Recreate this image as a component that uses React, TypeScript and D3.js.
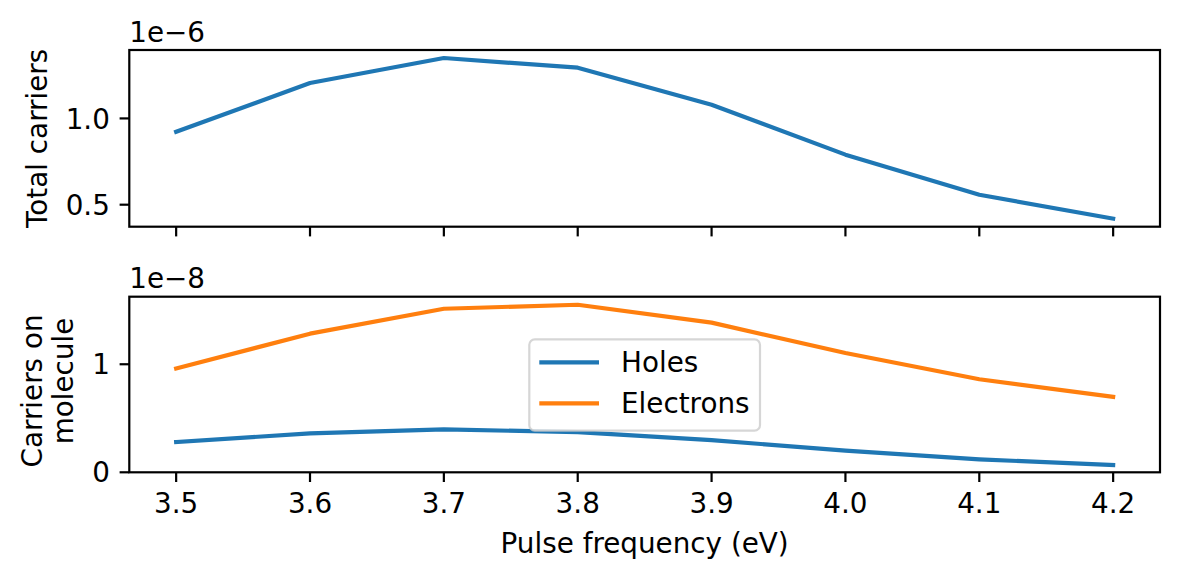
import React from "react";
import * as d3 from "d3";

const freqs = [3.5, 3.6, 3.7, 3.8, 3.9, 4.0, 4.1, 4.2];
// Total carriers, in units of 1e-6
const totalCarriers = [0.923, 1.205, 1.35, 1.294, 1.079, 0.79, 0.558, 0.419];
// Carriers on molecule, in units of 1e-8
const holes = [0.28, 0.36, 0.397, 0.372, 0.298, 0.2, 0.12, 0.067];
const electrons = [0.96, 1.283, 1.514, 1.551, 1.385, 1.104, 0.861, 0.698];

const xTicks = [3.5, 3.6, 3.7, 3.8, 3.9, 4.0, 4.1, 4.2];
const topYTicks = [0.5, 1.0];
const bottomYTicks = [0, 1];
const seriesNames = ["Holes", "Electrons"];

const W = 1180;
const H = 580;
const FS = 27.8;
const BLUE = "#1f77b4";
const ORANGE = "#ff7f0e";
const LW = 4.17;
const SPINE = 2.2;
const TICK = 9.7;
const PAD = 9.7;
const FONT = "DejaVu Sans";

const left = 129.3;
const right = 1160;
const top1 = 50, bot1 = 226.7;
const top2 = 296.7, bot2 = 472.3;

function pad5(lo: number, hi: number): [number, number] {
  const m = (hi - lo) * 0.05;
  return [lo - m, hi + m];
}

export default function App() {
  const xExt = d3.extent(freqs) as [number, number];
  const x = d3.scaleLinear().domain(pad5(xExt[0], xExt[1])).range([left, right]);

  const tExt = d3.extent(totalCarriers) as [number, number];
  const y1 = d3.scaleLinear().domain(pad5(tExt[0], tExt[1])).range([bot1, top1]);

  const allB = holes.concat(electrons);
  const bExt = d3.extent(allB) as [number, number];
  const y2 = d3.scaleLinear().domain([0, pad5(bExt[0], bExt[1])[1]]).range([bot2, top2]);

  const line1 = d3.line<number>().x((_, i) => x(freqs[i])).y((d) => y1(d));
  const line2 = d3.line<number>().x((_, i) => x(freqs[i])).y((d) => y2(d));

  const fmt1 = d3.format(".1f");

  const renderXTicks = (bot: number, labels: boolean) =>
    xTicks.map((t) => (
      <g key={t}>
        <line x1={x(t)} x2={x(t)} y1={bot} y2={bot + TICK} stroke="#000" strokeWidth={SPINE} />
        {labels && (
          <text x={x(t)} y={bot + TICK + PAD + 0.76 * FS} textAnchor="middle" fontSize={FS}>
            {fmt1(t)}
          </text>
        )}
      </g>
    ));

  const renderYTicks = (ticks: number[], y: d3.ScaleLinear<number, number>, f: (v: number) => string) =>
    ticks.map((t) => (
      <g key={t}>
        <line x1={left - TICK} x2={left} y1={y(t)} y2={y(t)} stroke="#000" strokeWidth={SPINE} />
        <text x={left - TICK - PAD} y={y(t) + 0.365 * FS} textAnchor="end" fontSize={FS}>
          {f(t)}
        </text>
      </g>
    ));

  return (
    <div style={{ position: "absolute", left: 0, top: 0 }}>
      <svg width={W} height={H} fontFamily={FONT} style={{ display: "block" }}>
        <rect width={W} height={H} fill="#fff" />
        {/* Top panel */}
        <path d={line1(totalCarriers) || ""} fill="none" stroke={BLUE} strokeWidth={LW} strokeLinejoin="round" strokeLinecap="square" />
        <rect x={left} y={top1} width={right - left} height={bot1 - top1} fill="none" stroke="#000" strokeWidth={SPINE} />
        {renderXTicks(bot1, false)}
        {renderYTicks(topYTicks, y1, (v) => fmt1(v))}
        <text x={left} y={41.7} fontSize={FS}>1e−6</text>
        <text transform={`translate(47.3, ${(top1 + bot1) / 2}) rotate(-90)`} textAnchor="middle" fontSize={FS}>
          Total carriers
        </text>

        {/* Bottom panel */}
        <path d={line2(holes) || ""} fill="none" stroke={BLUE} strokeWidth={LW} strokeLinejoin="round" strokeLinecap="square" />
        <path d={line2(electrons) || ""} fill="none" stroke={ORANGE} strokeWidth={LW} strokeLinejoin="round" strokeLinecap="square" />
        <rect x={left} y={top2} width={right - left} height={bot2 - top2} fill="none" stroke="#000" strokeWidth={SPINE} />
        {renderXTicks(bot2, true)}
        {renderYTicks(bottomYTicks, y2, (v) => String(v))}
        <text x={left} y={288.3} fontSize={FS}>1e−8</text>
        <text transform={`translate(41.5, 391) rotate(-90)`} textAnchor="middle" fontSize={FS}>
          Carriers on
        </text>
        <text transform={`translate(72.8, 381) rotate(-90)`} textAnchor="middle" fontSize={FS}>
          molecule
        </text>
        <text x={(left + right) / 2} y={553.3} textAnchor="middle" fontSize={FS}>
          Pulse frequency (eV)
        </text>

        {/* Legend */}
        <g>
          <rect x={529.3} y={339.3} width={230.7} height={91.4} rx={5.5} ry={5.5} fill="#fff" fillOpacity={0.8} stroke="#cccccc" strokeOpacity={0.8} strokeWidth={2.2} />
          {seriesNames.map((name, i) => {
            const ly = i === 0 ? 362.3 : 403.3;
            return (
              <g key={name}>
                <line x1={539.3} x2={599} y1={ly} y2={ly} stroke={i === 0 ? BLUE : ORANGE} strokeWidth={LW} />
                <text x={621} y={ly + 0.365 * FS} fontSize={FS}>{name}</text>
              </g>
            );
          })}
        </g>
      </svg>
    </div>
  );
}
